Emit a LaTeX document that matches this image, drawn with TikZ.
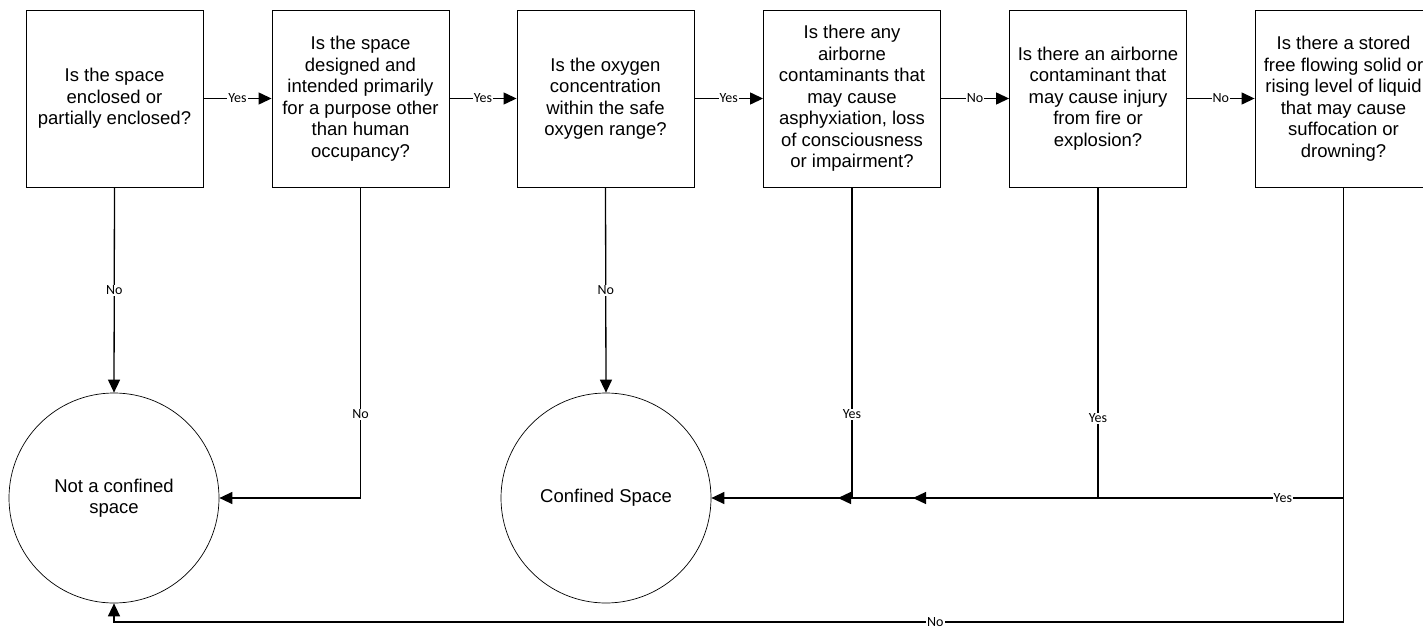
\documentclass[tikz,border=0pt]{standalone}
\usepackage{fontspec}
\setmainfont{Liberation Sans}
\newfontfamily\labfont{Carlito}
\usetikzlibrary{arrows.meta}
\begin{document}
\begin{tikzpicture}[x=1pt,y=-1pt,
 qbox/.style={draw, line width=0.9pt, minimum width=177pt, minimum height=177pt, inner sep=0pt, align=center, font=\fontsize{18.5}{21.5}\selectfont},
 endc/.style={draw, circle, line width=0.7pt, minimum size=210pt, inner sep=0pt, align=center, font=\fontsize{18.5}{21.5}\selectfont},
 conn/.style={line width=1.3pt, -{Triangle[length=13pt,width=12pt]}},
 lab/.style={fill=white, inner sep=1pt, font=\labfont\fontsize{14}{15}\selectfont, text=black}]
\useasboundingbox (0,0) rectangle (1423,626);
\clip (0,0) rectangle (1423,626);

\node[qbox] (b1) at (114.5,98.5) {Is the space\\enclosed or\\partially enclosed?};
\node[qbox] (b2) at (360.5,98.5) {Is the space\\designed and\\intended primarily\\for a purpose other\\than human\\occupancy?};
\node[qbox] (b3) at (605.5,98.5) {Is the oxygen\\concentration\\within the safe\\oxygen range?};
\node[qbox] (b4) at (852,98.5) {Is there any\\airborne\\contaminants that\\may cause\\asphyxiation, loss\\of consciousness\\or impairment?};
\node[qbox] (b5) at (1098,98.5) {Is there an airborne\\contaminant that\\may cause injury\\from fire or\\explosion?};
\node[qbox] (b6) at (1343.5,98.5) {Is there a stored\\free flowing solid or\\rising level of liquid\\that may cause\\suffocation or\\drowning?};

\node[endc] (c1) at (114,498) {Not a confined\\space};
\node[endc] (c2) at (606,498) {Confined Space};

\coordinate (t5) at (913,498);
\coordinate (t6) at (838,498);
\coordinate (k1) at (1343.5,622);
\coordinate (k2) at (114,622);

% top row
\draw[conn] (b1) -- node[lab]{Yes} (b2);
\draw[conn] (b2) -- node[lab]{Yes} (b3);
\draw[conn] (b3) -- node[lab]{Yes} (b4);
\draw[conn] (b4) -- node[lab]{No} (b5);
\draw[conn] (b5) -- node[lab]{No} (b6);

% downward
\draw[conn] (b1.south) -- node[lab]{No} (c1.north);
\draw[conn] (b3.south) -- node[lab]{No} (c2.north);
\draw[conn] (b2.south) |- node[lab, pos=0.365]{No} (c1.east);
\draw[conn] (b4.south) |- node[lab, pos=0.365]{Yes} (c2.east);
\draw[conn] (b5.south) |- node[lab, pos=0.372]{Yes} (t5);
\draw[conn] (b6.south) |- node[lab, pos=0.56]{Yes} (t6);
\draw[conn] (b6.south) -- (k1) -- node[lab, pos=0.332]{No} (k2) -- (c1.south);
\end{tikzpicture}
\end{document}
